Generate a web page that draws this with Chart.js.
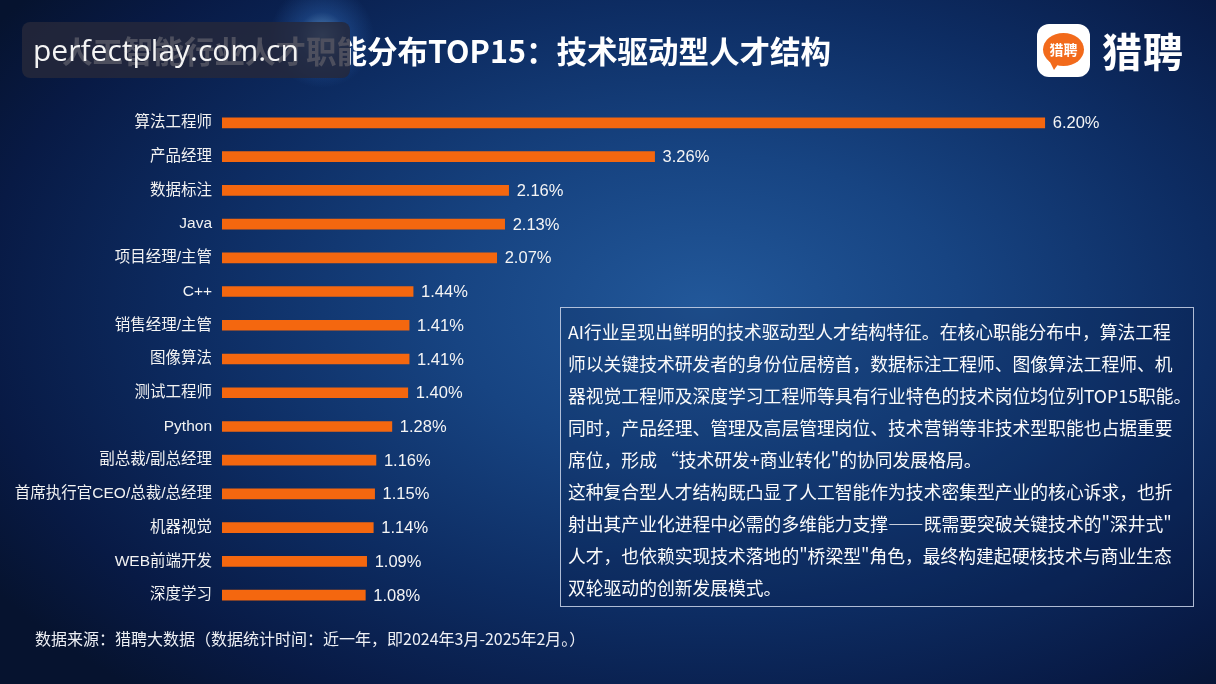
<!DOCTYPE html>
<html lang="zh">
<head>
  <meta charset="UTF-8" />
  <title>人工智能行业人才职能分布TOP15</title>
  <script src="https://cdn.jsdelivr.net/npm/chart.js"></script>
  <style>
    html, body { margin: 0; padding: 0; }
    body {
      width: 1216px; height: 684px; overflow: hidden; position: relative;
      font-family: "Noto Sans CJK SC", sans-serif; color: #fff;
      background:
        radial-gradient(circle at 322px 36px, rgba(140,205,255,0.6) 0, rgba(60,130,220,0.28) 24px, rgba(30,80,160,0) 52px),
        radial-gradient(ellipse 70% 75% at 58% 45%, #22589a 0%, #174482 30%, #0d2c62 60%, #081a45 85%, #06132f 100%);
    }
    #chart { position: absolute; left: 0; top: 0; }
    .title {
      position: absolute; left: 62px; top: 30px; font-size: 30.5px; font-weight: bold;
      white-space: nowrap; line-height: 40px;
    }
    .wm {
      position: absolute; left: 22px; top: 22px; width: 328px; height: 56px;
      background: rgba(38,40,58,0.82); border-radius: 8px;
      font-family: "Open Sans", sans-serif; font-size: 30px; line-height: 56px;
      text-indent: 11px; color: #f4f4f4; white-space: nowrap;
    }
    .logo-icon {
      position: absolute; left: 1037px; top: 24px; width: 53px; height: 53px;
      background: #fff; border-radius: 12px;
    }
    .logo-icon .bubble {
      position: absolute; left: 6px; top: 9px; width: 41px; height: 33px;
      background: #f26a1b; border-radius: 50%;
      font-size: 14px; font-weight: bold; line-height: 33px; text-align: center; color: #fff;
    }
    .logo-icon .tail {
      position: absolute; left: 12px; top: 36px; width: 0; height: 0;
      border-left: 5px solid transparent; border-right: 7px solid transparent;
      border-top: 10px solid #f26a1b;
    }
    .logo-text {
      position: absolute; left: 1102px; top: 25px; font-size: 40px; font-weight: bold;
      line-height: 50px; letter-spacing: 1px;
    }
    .note {
      position: absolute; left: 560px; top: 307px; width: 619px; height: 285px;
      border: 1px solid rgba(205,215,235,0.85); padding: 7px 6px 6px 7px;
      font-size: 17.8px; line-height: 32px; white-space: nowrap; color: #fbfbfb;
      background: rgba(8,24,62,0.18);
    }
    .source {
      position: absolute; left: 35px; top: 627px; font-size: 16px; line-height: 22px;
      color: #eef0f5; white-space: nowrap;
    }
  </style>
</head>
<body>
  <canvas id="chart" width="1216" height="684"></canvas>

  <div class="title">人工智能行业人才职能分布TOP15：技术驱动型人才结构</div>
  <div class="wm">perfectplay.com.cn</div>

  <div class="logo-icon"><div class="tail"></div><div class="bubble">猎聘</div></div>
  <div class="logo-text">猎聘</div>

  <div class="note">
    AI行业呈现出鲜明的技术驱动型人才结构特征。在核心职能分布中，算法工程<br>
    师以关键技术研发者的身份位居榜首，数据标注工程师、图像算法工程师、机<br>
    器视觉工程师及深度学习工程师等具有行业特色的技术岗位均位列TOP15职能。<br>
    同时，产品经理、管理及高层管理岗位、技术营销等非技术型职能也占据重要<br>
    席位，形成 “技术研发+商业转化"的协同发展格局。<br>
    这种复合型人才结构既凸显了人工智能作为技术密集型产业的核心诉求，也折<br>
    射出其产业化进程中必需的多维能力支撑——既需要突破关键技术的"深井式"<br>
    人才，也依赖实现技术落地的"桥梁型"角色，最终构建起硬核技术与商业生态<br>
    双轮驱动的创新发展模式。
  </div>

  <div class="source">数据来源：猎聘大数据（数据统计时间：近一年，即2024年3月-2025年2月。）</div>

  <script>
    const categories = [
      "算法工程师", "产品经理", "数据标注", "Java", "项目经理/主管",
      "C++", "销售经理/主管", "图像算法", "测试工程师", "Python",
      "副总裁/副总经理", "首席执行官CEO/总裁/总经理", "机器视觉", "WEB前端开发", "深度学习"
    ];
    const shares = [6.20, 3.26, 2.16, 2.13, 2.07, 1.44, 1.41, 1.41, 1.40, 1.28, 1.16, 1.15, 1.14, 1.09, 1.08];
    const xMax = 7;

    const fontFamily = "'Liberation Sans', 'Noto Sans CJK SC', sans-serif";

    // value text at the end of each bar
    const valueLabels = {
      id: "valueLabels",
      afterDatasetsDraw(chart) {
        const ctx = chart.ctx;
        const meta = chart.getDatasetMeta(0);
        ctx.save();
        ctx.font = "16.5px " + fontFamily;
        ctx.fillStyle = "#f5f5f5";
        ctx.textBaseline = "middle";
        ctx.textAlign = "left";
        meta.data.forEach((bar, i) => {
          ctx.fillText(shares[i].toFixed(2) + "%", bar.x + 8, bar.y + 1);
        });
        ctx.restore();
      }
    };

    new Chart(document.getElementById("chart").getContext("2d"), {
      type: "bar",
      data: {
        labels: categories,
        datasets: [{
          data: shares,
          backgroundColor: "#f4670f",
          barThickness: 10,
          borderSkipped: false
        }]
      },
      options: {
        indexAxis: "y",
        responsive: false,
        animation: false,
        layout: { padding: { left: 0, right: 1216 - 222 - xMax * 132.7, top: 106, bottom: 72 } },
        plugins: { legend: { display: false }, tooltip: { enabled: false } },
        scales: {
          x: { display: false, min: 0, max: xMax },
          y: {
            grid: { display: false, drawTicks: false },
            border: { display: false },
            ticks: {
              color: "#f2f2f2",
              padding: 10,
              font: { family: fontFamily, size: 15.5 }
            },
            afterFit(scale) { scale.width = 222; }
          }
        }
      },
      plugins: [valueLabels]
    });
  </script>
</body>
</html>
